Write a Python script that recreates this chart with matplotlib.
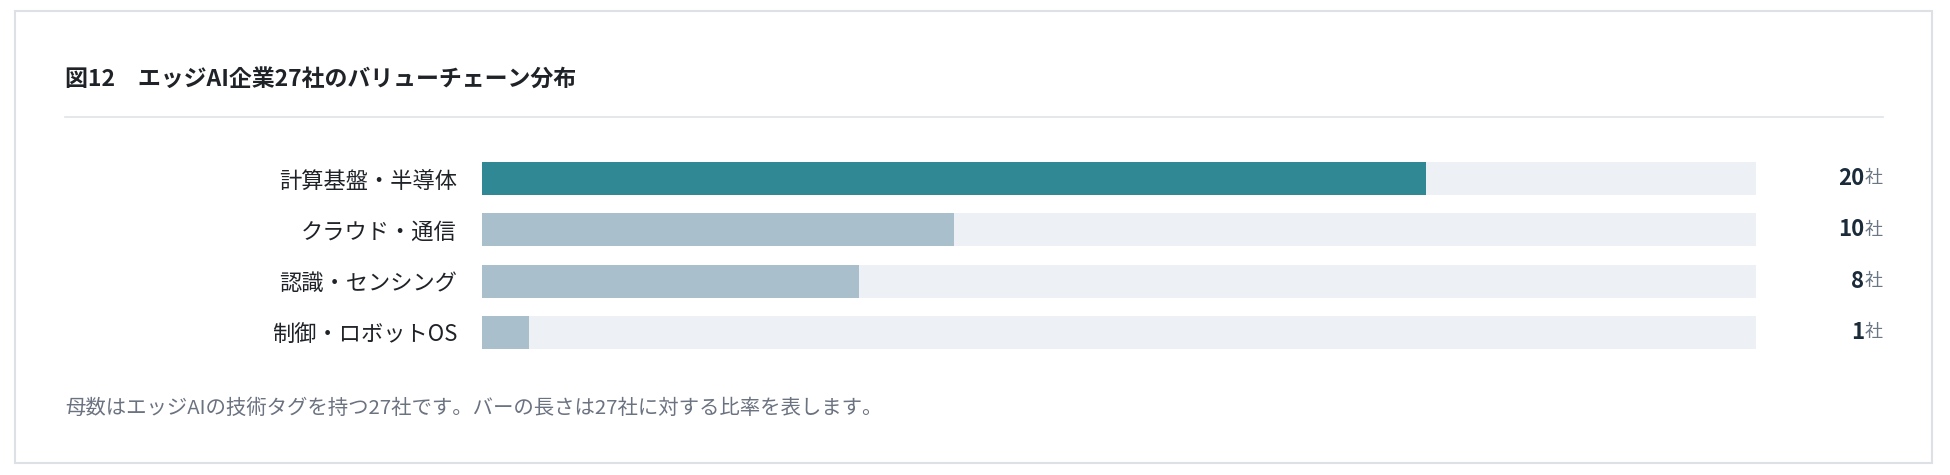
import matplotlib
matplotlib.use("Agg")
import matplotlib.pyplot as plt
from matplotlib.patches import Rectangle

plt.rcParams['font.family'] = ['Noto Sans CJK JP', 'DejaVu Sans']

# data
categories = ['計算基盤・半導体', 'クラウド・通信', '認識・センシング', '制御・ロボットOS']
counts = [20, 10, 8, 1]
total = 27
title = '図12\u3000エッジAI企業27社のバリューチェーン分布'
note = '母数はエッジAIの技術タグを持つ27社です。バーの長さは27社に対する比率を表します。'

W, H = 1950, 475
fig = plt.figure(figsize=(W / 100, H / 100), dpi=100)
fig.patch.set_facecolor('white')

def fx(px):
    return px / W

def fy(py):
    return 1 - py / H

# card border
fig.patches.append(Rectangle((fx(15), fy(463)), fx(1932) - fx(15), fy(11) - fy(463),
                             transform=fig.transFigure, facecolor='none',
                             edgecolor='#dde1e5', lw=1.5, zorder=0))

# title + rule
fig.text(fx(65), fy(80), title, fontsize=16.5, fontweight='bold', color='#1f2328',
         ha='left', va='center')
fig.add_artist(plt.Line2D([fx(65), fx(1883)], [fy(117), fy(117)],
                          transform=fig.transFigure, color='#dfe4e8', lw=1.2))

# bars
pitch = 51.3
top = 178.5 - pitch / 2
ax = fig.add_axes([fx(482), fy(top + 4 * pitch), fx(1756) - fx(482), 4 * pitch / H])
ax.set_facecolor('none')
ypos = list(range(len(categories)))
bh = 33 / pitch
ax.barh(ypos, [total] * len(categories), height=bh, color='#edf1f5', zorder=1)
colors = ['#2f8893'] + ['#a9bfcc'] * (len(categories) - 1)
ax.barh(ypos, counts, height=bh, color=colors, zorder=2)
ax.set_xlim(0, total)
ax.set_ylim(len(categories) - 0.5, -0.5)
ax.set_yticks(ypos)
ax.set_yticklabels(categories, fontsize=16, color='#1f2328')
ax.tick_params(axis='y', length=0, pad=18)
ax.set_xticks([])
for s in ax.spines.values():
    s.set_visible(False)

# value labels
xr = (1883 - 482) / (1756 - 482)
for y, c in zip(ypos, counts):
    ax.annotate('社', xy=(xr, y), xycoords=('axes fraction', 'data'),
                ha='right', va='center', fontsize=13, color='#6b7785',
                annotation_clip=False)
    ax.annotate(str(c), xy=(xr, y), xycoords=('axes fraction', 'data'),
                xytext=(-13.5, 0), textcoords='offset points',
                ha='right', va='center', fontsize=16, fontweight='bold', color='#1c2b3a',
                annotation_clip=False)

# footnote
fig.text(fx(65), fy(408), note, fontsize=14.7, color='#6b7280', ha='left', va='center')

fig.savefig('out.png', dpi=100, facecolor='white')
